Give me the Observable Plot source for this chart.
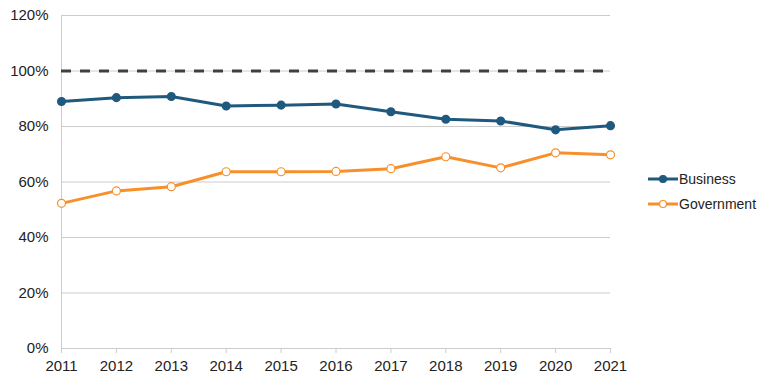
<!DOCTYPE html>
<html><head><meta charset="utf-8">
<script src="https://cdn.jsdelivr.net/npm/d3@7"></script>
<script src="https://cdn.jsdelivr.net/npm/@observablehq/plot@0.6"></script>
<style>
body{margin:0;background:#fff;font-family:"Liberation Sans",Arial,sans-serif;}
#wrap{position:relative;width:768px;height:384px;}
.leg{position:absolute;left:648px;font-size:14px;color:#222;display:flex;align-items:center;height:20px;}
.leg svg{margin-right:0px;}
</style>
</head><body>
<div id="wrap"></div>
<script>
const years = [2011,2012,2013,2014,2015,2016,2017,2018,2019,2020,2021];
const business = [0.890,0.904,0.908,0.874,0.877,0.881,0.853,0.826,0.820,0.788,0.803];
const government = [0.523,0.568,0.583,0.637,0.637,0.638,0.648,0.691,0.651,0.705,0.698];
const seriesNames = ["Business","Government"];
const colors = ["#1f5a7e","#f7902b"];
const target = [1.0];
const yTicks = [0,0.2,0.4,0.6,0.8,1.0,1.2];

const bData = years.map((y,i)=>({year:y,value:business[i]}));
const gData = years.map((y,i)=>({year:y,value:government[i]}));

const chart = Plot.plot({
  width:768, height:384,
  marginLeft:61, marginRight:158, marginTop:15, marginBottom:36,
  style:{fontFamily:"Liberation Sans, Arial, sans-serif", fontSize:"15px", color:"#222", background:"#fff"},
  x:{domain:[2011,2021], label:null},
  y:{domain:[0,1.2], label:null},
  marks:[
    Plot.gridY(yTicks,{stroke:"#cccccc", strokeOpacity:1, strokeWidth:1}),
    Plot.ruleX([2011],{y1:0,y2:1.2,stroke:"#cccccc",strokeWidth:1}),
    Plot.axisX({ticks:years, tickFormat:"d", tickSize:5, tickPadding:7, stroke:"#cccccc", color:"#222", fontSize:15}),
    Plot.axisY({ticks:yTicks, tickFormat:d=>Math.round(d*100)+"%", tickSize:0, tickPadding:13, color:"#222", fontSize:15}),
    Plot.ruleY(target,{stroke:"#404040", strokeWidth:3, strokeDasharray:"10,9"}),
    Plot.line(bData,{x:"year",y:"value",stroke:colors[0],strokeWidth:3}),
    Plot.dot(bData,{x:"year",y:"value",r:3.8,fill:colors[0],stroke:colors[0]}),
    Plot.line(gData,{x:"year",y:"value",stroke:colors[1],strokeWidth:3}),
    Plot.dot(gData,{x:"year",y:"value",r:4,fill:"#fff",stroke:colors[1],strokeWidth:1.2})
  ]
});
const wrap = document.getElementById("wrap");
wrap.appendChild(chart);
seriesNames.forEach((name,i)=>{
  const d = document.createElement("div");
  d.className="leg";
  d.style.top = (169 + i*25) + "px";
  const fill = i===0 ? colors[0] : "#fff";
  d.innerHTML = `<svg width="31" height="10"><line x1="0" y1="5" x2="30" y2="5" stroke="${colors[i]}" stroke-width="3"/><circle cx="15" cy="5" r="3.5" fill="${fill}" stroke="${colors[i]}" stroke-width="1.2"/></svg><span>${name}</span>`;
  wrap.appendChild(d);
});
</script>
</body></html>
